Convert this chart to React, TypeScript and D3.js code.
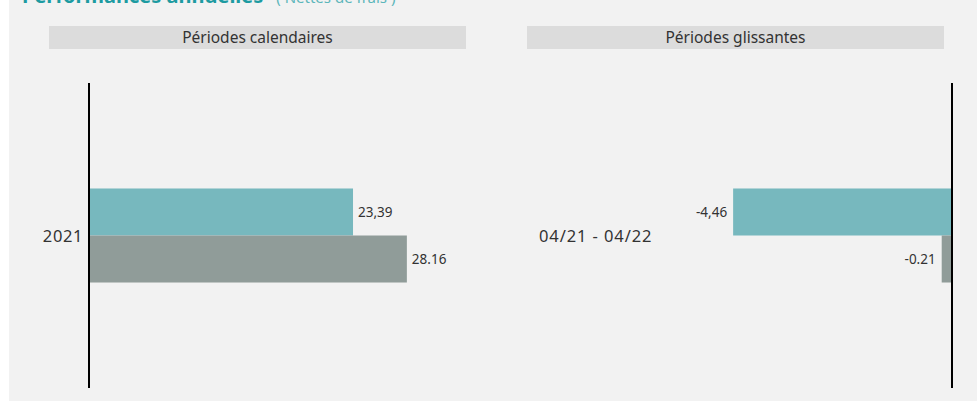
import { useEffect, useRef } from 'react'
import * as d3 from 'd3'

// titres des deux volets
const panels = ['Périodes calendaires', 'Périodes glissantes']

// périodes calendaires
const calYears = ['2021']
const calFund = [23.39]
const calIndex = [28.16]

// périodes glissantes
const rollPeriods = ['04/21 - 04/22']
const rollFund = [-4.46]
const rollIndex = [-0.21]

const series = ['fund', 'index']
const COLORS: Record<string, string> = { fund: '#77b8be', index: '#909c99' }

const W = 977, H = 401
const FONT = '"Noto Sans", "Open Sans", sans-serif'

const fmtDot = (v: number) => d3.format('.2f')(v).replace('\u2212', '-')
const fmtComma = (v: number) => fmtDot(v).replace('.', ',')

export default function App() {
  const svgRef = useRef<SVGSVGElement>(null)

  useEffect(() => {
    document.body.style.margin = '0'
    const svg = d3.select(svgRef.current)
    svg.selectAll('*').remove()
    svg.attr('width', W).attr('height', H).attr('viewBox', `0 0 ${W} ${H}`)

    // fond
    svg.append('rect').attr('x', 9).attr('y', 0).attr('width', W - 9).attr('height', H)
      .attr('fill', '#f2f2f2')

    // titre (coupé en haut)
    const title = svg.append('text').attr('x', 22).attr('y', 3)
      .attr('font-family', FONT).attr('fill', '#1d9ba1')
    title.append('tspan').attr('font-size', 20).attr('font-weight', 700).text('Performances annuelles')
    title.append('tspan').attr('dx', 13).attr('font-size', 15).attr('fill', '#5cb6ba').text('( Nettes de frais )')

    // bandeaux
    const headerX = [49, 527]
    panels.forEach((p, i) => {
      svg.append('rect').attr('x', headerX[i]).attr('y', 26).attr('width', 417).attr('height', 23)
        .attr('fill', '#dcdcdc')
      svg.append('text').attr('x', headerX[i] + 208.5).attr('y', 43)
        .attr('text-anchor', 'middle').attr('font-family', FONT).attr('font-size', 15.5)
        .attr('fill', '#333').text(p)
    })

    const yTop = 83, yBot = 388

    // ---- volet gauche ----
    const xL = d3.scaleLinear().domain([0, 33.4]).range([89, 466])
    const yL = d3.scaleBand().domain(calYears).range([yTop, yBot]).paddingInner(0).paddingOuter(1.122)
    const subL = d3.scaleBand().domain(series).range([0, yL.bandwidth()])

    const calRows = calYears.map((c, i) => ({ cat: c, fund: calFund[i], index: calIndex[i] }))
    const gL = svg.append('g')
    calRows.forEach((r) => {
      series.forEach((s) => {
        const v = (r as any)[s] as number
        const y0 = yL(r.cat)! + subL(s)!
        gL.append('rect')
          .attr('x', xL(Math.min(0, v))).attr('width', Math.abs(xL(v) - xL(0)))
          .attr('y', y0).attr('height', subL.bandwidth())
          .attr('fill', COLORS[s])
        gL.append('text')
          .attr('x', xL(v) + 5).attr('y', y0 + subL.bandwidth() / 2 + 5)
          .attr('font-family', FONT).attr('font-size', 13.5).attr('fill', '#333')
          .text(s === 'fund' ? fmtComma(v) : fmtDot(v))
      })
      gL.append('text')
        .attr('x', 83).attr('y', yL(r.cat)! + yL.bandwidth() / 2 + 6)
        .attr('text-anchor', 'end').attr('font-family', FONT).attr('font-size', 16.5)
        .attr('letter-spacing', 0.6).attr('fill', '#333').text(r.cat)
    })
    gL.append('line').attr('x1', xL(0)).attr('x2', xL(0)).attr('y1', yTop).attr('y2', yBot)
      .attr('stroke', '#000').attr('stroke-width', 2)

    // ---- volet droit ----
    const xR = d3.scaleLinear().domain([-8.66, 0]).range([527, 952])
    const yR = d3.scaleBand().domain(rollPeriods).range([yTop, yBot]).paddingInner(0).paddingOuter(1.122)
    const subR = d3.scaleBand().domain(series).range([0, yR.bandwidth()])

    const rollRows = rollPeriods.map((c, i) => ({ cat: c, fund: rollFund[i], index: rollIndex[i] }))
    const gR = svg.append('g')
    rollRows.forEach((r) => {
      series.forEach((s) => {
        const v = (r as any)[s] as number
        const y0 = yR(r.cat)! + subR(s)!
        gR.append('rect')
          .attr('x', xR(Math.min(0, v))).attr('width', Math.abs(xR(v) - xR(0)))
          .attr('y', y0).attr('height', subR.bandwidth())
          .attr('fill', COLORS[s])
        gR.append('text')
          .attr('x', xR(v) - 6).attr('y', y0 + subR.bandwidth() / 2 + 5)
          .attr('text-anchor', 'end')
          .attr('font-family', FONT).attr('font-size', 13.5).attr('fill', '#333')
          .text(s === 'fund' ? fmtComma(v) : fmtDot(v))
      })
      gR.append('text')
        .attr('x', 539).attr('y', yR(r.cat)! + yR.bandwidth() / 2 + 6)
        .attr('font-family', FONT).attr('font-size', 16.5)
        .attr('letter-spacing', 0.9).attr('fill', '#333').text(r.cat)
    })
    gR.append('line').attr('x1', xR(0)).attr('x2', xR(0)).attr('y1', yTop).attr('y2', yBot)
      .attr('stroke', '#000').attr('stroke-width', 2)
  }, [])

  return <svg ref={svgRef} style={{ display: 'block' }} />
}
